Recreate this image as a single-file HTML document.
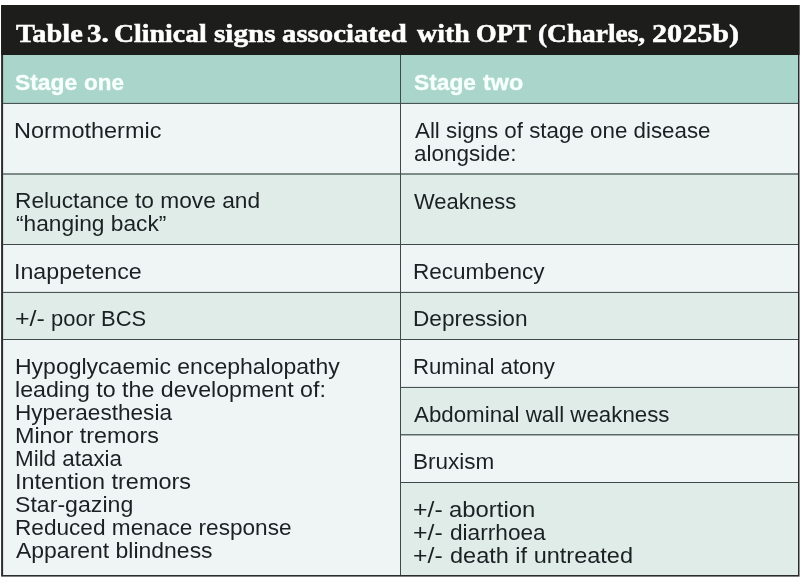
<!DOCTYPE html>
<html lang="en"><head><meta charset="utf-8"><title>Table 3. Clinical signs associated with OPT</title>
<style>
html,body{margin:0;padding:0;background:#ffffff;}
body{width:800px;height:578px;position:relative;overflow:hidden;font-family:"Liberation Sans",sans-serif;}
svg{position:absolute;left:0;top:0;display:block;}
.t{position:absolute;white-space:pre;transform-origin:0 0;margin:0;padding:0;will-change:transform;}
.title{font-family:"Liberation Serif", serif;font-size:25.2px;font-weight:700;color:#ffffff;line-height:30px;-webkit-text-stroke:0.5px #ffffff;}
.head{font-family:"Liberation Sans", sans-serif;font-size:22.2px;font-weight:700;color:#f7fffc;line-height:23px;-webkit-text-stroke:0.35px #f7fffc;}
.b{font-family:"Liberation Sans", sans-serif;font-size:21.8px;font-weight:400;color:#1b2123;line-height:23px;}
</style></head><body>
<svg width="800" height="578" viewBox="0 0 800 578">
<rect x="1.10" y="5.00" width="798.40" height="571.60" fill="#2a2d2b"/>
<rect x="1.10" y="5.00" width="798.40" height="50.00" fill="#1d1d1b"/>
<rect x="3.10" y="55.00" width="794.90" height="48.40" fill="#aad5ca"/>
<rect x="3.10" y="103.40" width="397.40" height="70.70" fill="#eff5f4"/>
<rect x="3.10" y="173.90" width="397.40" height="70.60" fill="#dfece8"/>
<rect x="3.10" y="244.50" width="397.40" height="47.90" fill="#eff5f4"/>
<rect x="3.10" y="292.40" width="397.40" height="47.10" fill="#dfece8"/>
<rect x="3.10" y="339.50" width="397.40" height="235.50" fill="#eff5f4"/>
<rect x="400.50" y="103.40" width="397.50" height="70.70" fill="#eff5f4"/>
<rect x="400.50" y="173.90" width="397.50" height="70.60" fill="#dfece8"/>
<rect x="400.50" y="244.50" width="397.50" height="47.90" fill="#eff5f4"/>
<rect x="400.50" y="292.40" width="397.50" height="47.10" fill="#dfece8"/>
<rect x="400.50" y="339.50" width="397.50" height="47.90" fill="#eff5f4"/>
<rect x="400.50" y="387.40" width="397.50" height="47.50" fill="#dfece8"/>
<rect x="400.50" y="434.70" width="397.50" height="47.80" fill="#eff5f4"/>
<rect x="400.50" y="482.50" width="397.50" height="92.50" fill="#dfece8"/>
<rect x="3.10" y="102.90" width="794.90" height="1.00" fill="#3d4a47"/>
<rect x="3.10" y="173.40" width="794.90" height="1.20" fill="#3d4a47"/>
<rect x="3.10" y="244.00" width="794.90" height="1.00" fill="#3d4a47"/>
<rect x="3.10" y="291.90" width="794.90" height="1.00" fill="#3d4a47"/>
<rect x="3.10" y="339.00" width="794.90" height="1.00" fill="#3d4a47"/>
<rect x="400.00" y="386.90" width="398.00" height="1.00" fill="#3d4a47"/>
<rect x="400.00" y="434.20" width="398.00" height="1.20" fill="#3d4a47"/>
<rect x="400.00" y="482.00" width="398.00" height="1.00" fill="#3d4a47"/>
<rect x="400.00" y="55.00" width="1.00" height="520.00" fill="#3d4a47"/>
</svg>
<div class="t title" style="left:15.97px;top:19.00px;transform:scaleX(1.1256);">Table</div>
<div class="t title" style="left:87.24px;top:19.00px;transform:scaleX(1.1529);">3.</div>
<div class="t title" style="left:114.49px;top:19.00px;transform:scaleX(1.1060);">Clinical</div>
<div class="t title" style="left:213.94px;top:19.00px;transform:scaleX(1.1604);">signs</div>
<div class="t title" style="left:282.11px;top:19.00px;transform:scaleX(1.1419);">associated</div>
<div class="t title" style="left:416.78px;top:19.00px;transform:scaleX(1.1087);">with</div>
<div class="t title" style="left:475.67px;top:19.00px;transform:scaleX(1.0547);">OPT</div>
<div class="t title" style="left:538.18px;top:19.00px;transform:scaleX(1.0866);">(Charles,</div>
<div class="t title" style="left:651.50px;top:19.00px;transform:scaleX(1.1969);">2025b)</div>
<div class="t head" style="left:15.18px;top:70.91px;transform:scaleX(1.0292);">Stage</div>
<div class="t head" style="left:84.09px;top:70.91px;transform:scaleX(1.0115);">one</div>
<div class="t head" style="left:413.69px;top:70.91px;transform:scaleX(1.0258);">Stage</div>
<div class="t head" style="left:482.98px;top:70.91px;transform:scaleX(1.0527);">two</div>
<div class="t b" style="left:13.93px;top:119.05px;transform:scaleX(1.0770);">Normothermic</div>
<div class="t b" style="left:14.64px;top:189.25px;transform:scaleX(1.0427);">Reluctance to move and</div>
<div class="t b" style="left:15.70px;top:212.25px;transform:scaleX(1.0433);">“hanging back”</div>
<div class="t b" style="left:14.18px;top:260.15px;transform:scaleX(1.0643);">Inappetence</div>
<div class="t b" style="left:14.79px;top:307.25px;transform:scaleX(1.1454);">+/-</div>
<div class="t b" style="left:51.37px;top:307.25px;transform:scaleX(1.0076);">poor BCS</div>
<div class="t b" style="left:14.72px;top:354.95px;transform:scaleX(1.0551);">Hypoglycaemic encephalopathy</div>
<div class="t b" style="left:15.00px;top:377.95px;transform:scaleX(1.0643);">leading to the development of:</div>
<div class="t b" style="left:14.54px;top:400.95px;transform:scaleX(1.0366);">Hyperaesthesia</div>
<div class="t b" style="left:15.29px;top:423.95px;transform:scaleX(1.0706);">Minor tremors</div>
<div class="t b" style="left:14.58px;top:447.05px;transform:scaleX(1.0274);">Mild ataxia</div>
<div class="t b" style="left:15.01px;top:470.15px;transform:scaleX(1.0762);">Intention tremors</div>
<div class="t b" style="left:15.44px;top:493.25px;transform:scaleX(1.0609);">Star-gazing</div>
<div class="t b" style="left:15.03px;top:516.35px;transform:scaleX(1.0375);">Reduced menace response</div>
<div class="t b" style="left:15.62px;top:539.45px;transform:scaleX(1.0535);">Apparent blindness</div>
<div class="t b" style="left:414.79px;top:119.05px;transform:scaleX(1.0247);">All signs of stage one disease</div>
<div class="t b" style="left:413.59px;top:142.15px;transform:scaleX(1.0310);">alongside:</div>
<div class="t b" style="left:414.02px;top:189.55px;transform:scaleX(1.0076);">Weakness</div>
<div class="t b" style="left:413.17px;top:259.95px;transform:scaleX(1.0337);">Recumbency</div>
<div class="t b" style="left:413.06px;top:307.25px;transform:scaleX(1.0385);">Depression</div>
<div class="t b" style="left:413.11px;top:354.85px;transform:scaleX(1.0181);">Ruminal atony</div>
<div class="t b" style="left:413.81px;top:402.55px;transform:scaleX(1.0238);">Abdominal wall weakness</div>
<div class="t b" style="left:413.07px;top:450.15px;transform:scaleX(1.0323);">Bruxism</div>
<div class="t b" style="left:412.93px;top:497.75px;transform:scaleX(1.1380);">+/-</div>
<div class="t b" style="left:448.83px;top:497.75px;transform:scaleX(1.0945);">abortion</div>
<div class="t b" style="left:412.93px;top:520.95px;transform:scaleX(1.1380);">+/-</div>
<div class="t b" style="left:449.67px;top:520.95px;transform:scaleX(1.0388);">diarrhoea</div>
<div class="t b" style="left:412.93px;top:544.15px;transform:scaleX(1.1380);">+/-</div>
<div class="t b" style="left:449.74px;top:544.15px;transform:scaleX(1.0784);">death if untreated</div>
</body></html>
